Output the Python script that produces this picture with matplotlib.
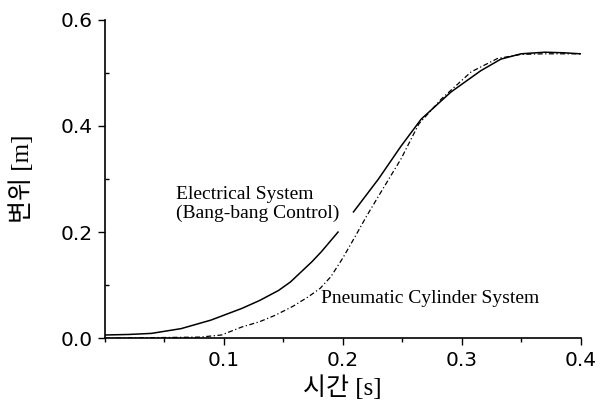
import numpy as np
import matplotlib
matplotlib.use("Agg")
import matplotlib.pyplot as plt
from matplotlib.ticker import MultipleLocator

# 시간 [s] / 변위 [m]
t_elec = [0.0, 0.02, 0.039, 0.064, 0.089, 0.115, 0.13, 0.146, 0.156, 0.165, 0.174, 0.182,
          0.196, 0.209, 0.23, 0.249, 0.266, 0.291, 0.316, 0.333, 0.35, 0.37, 0.385, 0.4]
x_elec = [0.006, 0.007, 0.009, 0.018, 0.034, 0.056, 0.071, 0.09, 0.106, 0.125, 0.144, 0.163,
          0.2, 0.238, 0.3, 0.362, 0.413, 0.464, 0.504, 0.526, 0.536, 0.539, 0.538, 0.536]

t_pneu = [0.0, 0.08, 0.098, 0.115, 0.13, 0.143, 0.158, 0.171, 0.181, 0.19, 0.2, 0.21,
          0.22, 0.232, 0.249, 0.264, 0.283, 0.308, 0.33, 0.35, 0.37, 0.4]
x_pneu = [0.0, 0.002, 0.006, 0.021, 0.031, 0.043, 0.06, 0.078, 0.094, 0.116, 0.151, 0.19,
          0.23, 0.275, 0.338, 0.404, 0.451, 0.502, 0.527, 0.535, 0.536, 0.536]

# the solid line is broken where the label sits
gap_after = 0.2

fig = plt.figure(figsize=(6.05, 4.05), dpi=100)
ax = fig.add_axes([0.1736, 0.165, 0.786, 0.786])

te = np.array(t_elec)
xe = np.array(x_elec)
left = te <= gap_after
ax.plot(te[left], xe[left], color="black", lw=1.1, solid_joinstyle="round")
ax.plot(te[~left], xe[~left], color="black", lw=1.1, solid_joinstyle="round")

ax.plot(t_pneu, x_pneu, color="black", lw=0.9, linestyle=(0, (4, 2, 1, 2)))

ax.set_xlim(0, 0.4)
ax.set_ylim(0, 0.6)
ax.xaxis.set_minor_locator(MultipleLocator(0.05))
ax.yaxis.set_minor_locator(MultipleLocator(0.1))
ax.set_xticks([0.1, 0.2, 0.3, 0.4])
ax.set_xticklabels(["0.1", "0.2", "0.3", "0.4"])
ax.set_yticks([0.0, 0.2, 0.4, 0.6])
ax.set_yticklabels(["0.0", "0.2", "0.4", "0.6"])
ax.tick_params(axis="x", which="major", direction="out", length=5, width=1, labelsize=14.5, pad=4)
ax.tick_params(axis="x", which="minor", direction="out", length=3, width=1)
ax.tick_params(axis="y", which="major", direction="out", length=5, width=1, labelsize=14.5, pad=4)
ax.tick_params(axis="y", which="minor", direction="in", length=3, width=1)
ax.spines["top"].set_visible(False)
ax.spines["right"].set_visible(False)
ax.spines["left"].set_linewidth(1.2)
ax.spines["bottom"].set_linewidth(1.2)

kfont = ["Liberation Serif", "Noto Sans CJK KR"]
ax.set_xlabel("시간 [s]", family=kfont, fontsize=18)
ax.xaxis.set_label_coords(0.5, -0.118)
ax.set_ylabel("변위 [m]", family=kfont, fontsize=18)
ax.yaxis.set_label_coords(-0.15, 0.5)

ax.text(0.06, 0.253, "Electrical System\n(Bang-bang Control)", family="Liberation Serif",
        fontsize=14, ha="left", va="center", linespacing=1.15)
ax.text(0.182, 0.074, "Pneumatic Cylinder System", family="Liberation Serif",
        fontsize=14, ha="left", va="center")

fig.savefig("out.png", dpi=100)
